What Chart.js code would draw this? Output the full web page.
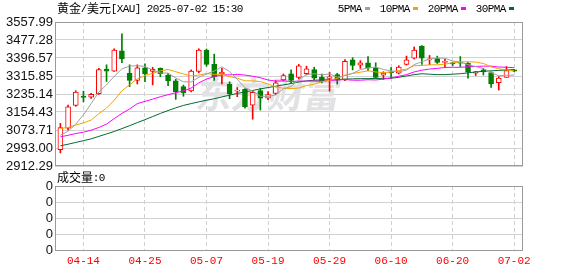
<!DOCTYPE html>
<html>
<head>
<meta charset="utf-8">
<script src="https://cdn.jsdelivr.net/npm/chart.js@4.4.1/dist/chart.umd.min.js"></script>
<style>
html, body { margin: 0; padding: 0; background: #fff; }
#wrap { position: relative; width: 578px; height: 276px; }
canvas { position: absolute; left: 0; top: 0; }
</style>
</head>
<body>
<div id="wrap">
	<canvas id="kline" width="578" height="276"></canvas>
	<canvas id="vol" width="578" height="276"></canvas>
</div>
<script>
// trading days shown on the chart
var dates = ['04-09','04-10','04-11','04-14','04-15','04-16','04-17','04-21','04-22','04-23',
	'04-24','04-25','04-28','04-29','04-30','05-01','05-02','05-05','05-06','05-07',
	'05-08','05-09','05-12','05-13','05-14','05-15','05-16','05-19','05-20','05-21',
	'05-22','05-23','05-26','05-27','05-28','05-29','05-30','06-02','06-03','06-04',
	'06-05','06-06','06-09','06-10','06-11','06-12','06-13','06-16','06-17','06-18',
	'06-19','06-20','06-23','06-24','06-25','06-26','06-27','06-30','07-01','07-02'];

var opens = [2986,3082,3184,3226,3221,3237,3347,3338,3429,3328, 3296,3352,3336,3350,3320,3294,3268,3249,3336,3432,
	3368,3326,3279,3248,3256,3185,3250,3216,3238,3298, 3326,3310,3326,3345,3310,3305,3322,3298,3388,3364,
	3375,3353,3320,3334,3328,3368,3396,3450,3388,3394, 3377,3372,3376,3373,3329,3343,3331,3286,3310,3343];
var highs = [3103,3185,3250,3248,3238,3350,3366,3438,3505,3366, 3366,3370,3355,3352,3328,3301,3275,3343,3438,3437,
	3414,3350,3290,3264,3260,3248,3261,3246,3295,3325, 3343,3368,3360,3355,3325,3332,3328,3390,3398,3385,
	3403,3375,3335,3354,3362,3405,3446,3452,3408,3405, 3391,3378,3403,3376,3337,3350,3335,3313,3358,3346];
var lows = [2971,3074,3180,3200,3215,3233,3291,3336,3376,3268, 3280,3290,3276,3313,3273,3211,3225,3245,3330,3360,
	3296,3280,3214,3223,3172,3122,3163,3210,3232,3294, 3283,3304,3321,3298,3285,3248,3280,3295,3343,3350,
	3340,3305,3300,3306,3325,3365,3392,3368,3366,3372, 3358,3362,3358,3306,3318,3320,3265,3253,3310,3335];
var closes = [3085,3178,3244,3220,3234,3345,3337,3432,3392,3296, 3352,3325,3346,3326,3294,3246,3240,3338,3432,3368,
	3313,3333,3236,3253,3178,3243,3216,3232,3285,3318, 3296,3362,3348,3306,3295,3312,3297,3382,3363,3375,
	3352,3310,3328,3330,3356,3388,3432,3396,3390,3377, 3380,3370,3373,3333,3334,3334,3280,3306,3340,3338];

// moving averages
var ma5 = [3050,3068,3100,3142,3192,3244,3276,3314,3348,3360, 3362,3359,3342,3329,3329,3307,3290,3289,3310,3325,
	3338,3357,3336,3301,3263,3249,3225,3224,3231,3259, 3269,3299,3322,3326,3321,3325,3311,3317,3328,3344,
	3352,3356,3345,3339,3335,3342,3367,3380,3392,3397, 3395,3383,3378,3367,3358,3349,3331,3317,3319,3320];
var ma10 = [3081,3085,3096,3106,3118,3147,3172,3207,3250,3276, 3303,3318,3328,3339,3345,3335,3325,3316,3320,3327,
	3323,3324,3313,3306,3294,3294,3291,3280,3266,3261, 3259,3262,3273,3279,3290,3297,3305,3320,3327,3333,
	3339,3334,3331,3334,3340,3347,3362,3363,3366,3366, 3369,3375,3379,3380,3378,3372,3357,3348,3343,3339];
var ma20 = [3043,3050,3058,3064,3073,3085,3100,3125,3148,3168, 3192,3202,3212,3223,3232,3241,3249,3262,3285,3302,
	3313,3321,3321,3323,3320,3315,3308,3298,3293,3294, 3291,3293,3293,3293,3292,3296,3298,3300,3297,3297,
	3299,3298,3302,3307,3315,3322,3334,3342,3347,3350, 3354,3355,3355,3357,3359,3360,3360,3356,3355,3353];
var ma30 = [3003,3010,3018,3026,3034,3045,3056,3067,3080,3093, 3107,3120,3134,3148,3161,3173,3184,3192,3200,3207,
	3214,3222,3230,3238,3244,3251,3258,3264,3270,3276, 3282,3289,3294,3297,3298,3299,3300,3302,3303,3304,
	3304,3305,3305,3306,3310,3316,3322,3326,3324,3322, 3322,3324,3326,3330,3334,3337,3339,3341,3343,3344];

var volumes = [0,0,0,0,0,0,0,0,0,0, 0,0,0,0,0,0,0,0,0,0, 0,0,0,0,0,0,0,0,0,0,
	0,0,0,0,0,0,0,0,0,0, 0,0,0,0,0,0,0,0,0,0, 0,0,0,0,0,0,0,0,0,0];

var priceTicks = [2912.29, 2993.00, 3073.71, 3154.43, 3235.14, 3315.85, 3396.57, 3477.28, 3557.99];
var volTicks = [0, 1, 2, 3, 4];
var volTickLabels = ['0', '0', '0', '0', '0'];
var dateTicks = ['04-14','04-25','05-07','05-19','05-29','06-10','06-20','07-02'];

var titleText = '黄金/美元[XAU] 2025-07-02 15:30';
var maNames = ['5PMA', '10PMA', '20PMA', '30PMA'];
var maColors = ['#a0a0a0', '#f5a300', '#ff00ff', '#006a32'];
var upColor = '#ff0000', downColor = '#007f00';

var xMin = -0.7, xMax = 60.15;

// draw text with SimSun-like metrics: CJK 12px wide, latin 6px wide
function drawText(ctx, str, x, y, color) {
	ctx.fillStyle = color;
	ctx.textBaseline = 'middle';
	ctx.textAlign = 'left';
	for (var ch of str) {
		if (ch.charCodeAt(0) > 0x2e80) {
			ctx.font = '12px "Noto Sans CJK SC"';
			ctx.fillText(ch, x, y + 0.5);
			x += 12;
		} else {
			ctx.font = '11px "Liberation Mono"';
			ctx.fillText(ch, x - 0.3, y + 1);
			x += 6;
		}
	}
	return x;
}

var frame = {
	id: 'frame',
	afterDraw: function(chart) {
		var a = chart.chartArea, ctx = chart.ctx;
		ctx.save();
		ctx.strokeStyle = '#9a9a9a';
		ctx.lineWidth = 1;
		ctx.strokeRect(Math.round(a.left) + 0.5, Math.round(a.top) + 0.5,
			Math.round(a.right - a.left) - 1, Math.round(a.bottom - a.top) - 1);
		ctx.restore();
	}
};

var header = {
	id: 'header',
	beforeDatasetsDraw: function(chart) {
		var ctx = chart.ctx, a = chart.chartArea;
		ctx.save();
		// watermark
		ctx.beginPath();
		ctx.rect(a.left, a.top, a.right - a.left, a.bottom - a.top);
		ctx.clip();
		ctx.setTransform(1, 0, -0.18, 1, 16, 0);
		ctx.font = 'bold 36px "Noto Sans CJK SC"';
		ctx.fillStyle = '#e2e2e5';
		ctx.textBaseline = 'middle';
		ctx.fillText('东方财富', 198, 94);
		ctx.restore();
	},
	afterDraw: function(chart) {
		var ctx = chart.ctx;
		ctx.save();
		drawText(ctx, titleText, 57, 8, '#000');
		var x = 338;
		maNames.forEach(function(n, k) {
			x = drawText(ctx, n, x, 8, '#000');
			ctx.fillStyle = maColors[k];
			ctx.fillRect(x + 3, 7, 5, 3);
			x += 18;
		});
		ctx.restore();
	}
};

var bodies = dates.map(function(d, i) {
	return { x: i, y: [opens[i], closes[i]] };
});
var wicks = dates.map(function(d, i) {
	return { x: i, y: [lows[i], highs[i]] };
});
var isUp = dates.map(function(d, i) { return closes[i] >= opens[i]; });

function maSet(values, k) {
	return {
		type: 'line',
		label: maNames[k],
		data: values.map(function(v, i) { return { x: i, y: v }; }),
		borderColor: maColors[k],
		borderWidth: 1,
		pointRadius: 0,
		tension: 0,
		fill: false
	};
}

function dateTickValues(scale) {
	scale.ticks = dateTicks.map(function(d) { return { value: dates.indexOf(d) }; });
}

var chartInstance = new Chart(document.getElementById('kline').getContext('2d'), {
	type: 'bar',
	data: {
		datasets: [
			maSet(ma5, 0), maSet(ma10, 1), maSet(ma20, 2), maSet(ma30, 3),
			{
				label: 'body',
				data: bodies,
				grouped: false,
				barThickness: 5,
				minBarLength: 1,
				borderWidth: 1,
				borderSkipped: false,
				borderColor: isUp.map(function(u) { return u ? upColor : downColor; }),
				backgroundColor: isUp.map(function(u) { return u ? '#ffffff' : downColor; })
			},
			{
				label: 'wick',
				data: wicks,
				grouped: false,
				barThickness: 1,
				borderWidth: 0,
				backgroundColor: isUp.map(function(u) { return u ? upColor : downColor; })
			}
		]
	},
	options: {
		responsive: false,
		animation: false,
		events: [],
		layout: { padding: { left: 0, top: 22, right: 55, bottom: 110 } },
		plugins: { legend: { display: false }, tooltip: { enabled: false } },
		scales: {
			x: {
				type: 'linear',
				min: xMin,
				max: xMax,
				offset: false,
				afterBuildTicks: dateTickValues,
				ticks: { display: false },
				grid: { color: '#cfcfcf', drawTicks: false, offset: false },
				border: { display: false, dash: [4, 3] }
			},
			y: {
				min: priceTicks[0],
				max: priceTicks[priceTicks.length - 1],
				afterBuildTicks: function(scale) {
					scale.ticks = priceTicks.map(function(v) { return { value: v }; });
				},
				afterFit: function(scale) { scale.width = 55; },
				ticks: {
					autoSkip: false,
					padding: 2,
					color: '#111',
					font: { family: '"Liberation Sans", Arial, sans-serif', size: 13 },
					callback: function(v) { return v.toFixed(2); }
				},
				grid: { color: '#d2d2d2', drawTicks: false },
				border: { display: false }
			}
		}
	},
	plugins: [header, frame]
});

var volTitle = {
	id: 'volTitle',
	afterDraw: function(chart) {
		drawText(chart.ctx, '成交量:0', 57, 177, '#000');
	}
};

var volChart = new Chart(document.getElementById('vol').getContext('2d'), {
	type: 'bar',
	data: {
		datasets: [{
			label: '成交量',
			data: volumes.map(function(v, i) { return { x: i, y: v }; }),
			grouped: false,
			barThickness: 5,
			backgroundColor: downColor
		}]
	},
	options: {
		responsive: false,
		animation: false,
		events: [],
		layout: { padding: { left: 0, top: 186, right: 55, bottom: 4 } },
		plugins: { legend: { display: false }, tooltip: { enabled: false } },
		scales: {
			x: {
				type: 'linear',
				min: xMin,
				max: xMax,
				offset: false,
				afterBuildTicks: dateTickValues,
				ticks: {
					padding: 4,
					color: '#ff0000',
					maxRotation: 0,
					autoSkip: false,
					font: { family: '"Liberation Mono", monospace', size: 11 },
					callback: function(v) { return dates[v]; }
				},
				grid: { color: '#cfcfcf', drawTicks: false, offset: false },
				border: { display: false, dash: [4, 3] }
			},
			y: {
				min: volTicks[0],
				max: volTicks[volTicks.length - 1],
				afterBuildTicks: function(scale) {
					scale.ticks = volTicks.map(function(v) { return { value: v }; });
				},
				afterFit: function(scale) { scale.width = 55; },
				ticks: {
					autoSkip: false,
					padding: 2,
					color: '#111',
					font: { family: '"Liberation Sans", Arial, sans-serif', size: 13 },
					callback: function(v, i) { return volTickLabels[i]; }
				},
				grid: { color: '#d2d2d2', drawTicks: false },
				border: { display: false }
			}
		}
	},
	plugins: [volTitle, frame]
});
</script>
</body>
</html>
